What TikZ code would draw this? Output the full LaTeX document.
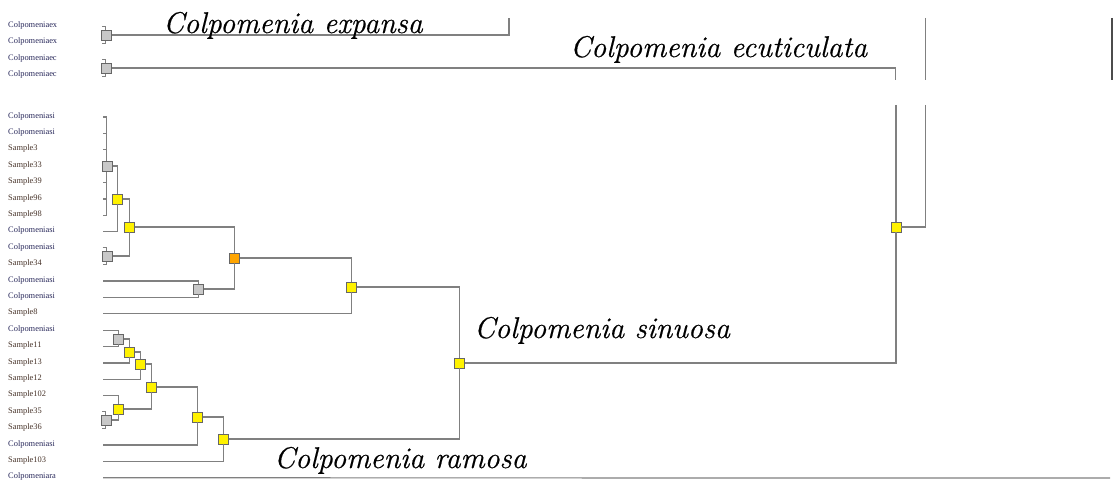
\documentclass[tikz,border=0pt]{standalone}
\usepackage{fontspec}
\newfontfamily\leaffont{Liberation Serif}
\newfontfamily\cladefont[FakeBold=0.5]{Latin Modern Roman}
\definecolor{branch}{HTML}{808080}
\definecolor{colpcol}{HTML}{28285A}
\definecolor{sampcol}{HTML}{463228}
\definecolor{nodegray}{HTML}{C8C8C8}
\definecolor{nodeorange}{HTML}{FFA500}
\tikzset{
  leaflabel/.style={anchor=base west, inner sep=0pt, font=\leaffont\fontsize{8.4}{10}\selectfont},
  clade/.style={anchor=base west, inner sep=0pt, font=\cladefont\fontsize{30}{36}\selectfont\itshape},
  ndbox/.style={draw=black!60, line width=0.8pt, minimum size=10pt, inner sep=0pt},
  grayknot/.style={ndbox, fill=nodegray},
  yellowknot/.style={ndbox, fill=yellow},
  orangeknot/.style={ndbox, fill=nodeorange},
  branchline/.style={draw=branch, line width=1.2pt},
}
\begin{document}
\begin{tikzpicture}[x=1pt,y=-1pt]
\useasboundingbox (0,0) rectangle (1113,484);
% leaf labels and leaf ends
\foreach \lab [count=\k from 0] in {Colpomeniaex,Colpomeniaex,Colpomeniaec,Colpomeniaec}
  \node[leaflabel, text=colpcol] (t\k) at (8,{27.5+16.3*\k}) {\lab};
\foreach \lab/\col [count=\k from 0] in {Colpomeniasi/colpcol,Colpomeniasi/colpcol,Sample3/sampcol,
    Sample33/sampcol,Sample39/sampcol,Sample96/sampcol,Sample98/sampcol,Colpomeniasi/colpcol,
    Colpomeniasi/colpcol,Sample34/sampcol,Colpomeniasi/colpcol,Colpomeniasi/colpcol,Sample8/sampcol,
    Colpomeniasi/colpcol,Sample11/sampcol,Sample13/sampcol,Sample12/sampcol,Sample102/sampcol,
    Sample35/sampcol,Sample36/sampcol,Colpomeniasi/colpcol,Sample103/sampcol,Colpomeniara/colpcol}{
  \node[leaflabel, text=\col] (s\k) at (8,{118+16.4*\k}) {\lab};
  \coordinate (r\k) at (103,{117+16.4*\k});
}
% collapsed clades
\draw[branchline] (r0) -- ++(3.7,0) |- (r6);
\foreach \k in {1,...,5} \draw[branchline] (r\k) -- ++(3.7,0);
\draw[branchline] (102,26.5) -| (105.7,43.5) -- (102,43.5);
\draw[branchline] (102,59.5) -| (105.7,76.5) -- (102,76.5);
\draw[branchline] (102.5,247.5) -| (106.3,264.5) -- (102.5,264.5);
\draw[branchline] (102,411.5) -| (105.7,428.5) -- (102,428.5);
% nodes
\node[grayknot] (gEx) at (106.7,35) {};
\node[grayknot] (gEc) at (106.7,68) {};
\node[grayknot] (gA) at (107.3,166) {};
\node[yellowknot] (yA) at (117.5,199) {};
\node[yellowknot] (yB) at (129.3,227) {};
\node[grayknot] (gB) at (107.3,256) {};
\node[grayknot] (gC) at (198.3,289) {};
\node[orangeknot] (oA) at (234.3,258) {};
\node[yellowknot] (yC) at (351.7,287) {};
\node[yellowknot] (yD) at (459.3,363) {};
\node[grayknot] (gD) at (118.3,339) {};
\node[yellowknot] (yE) at (129.3,352) {};
\node[yellowknot] (yF) at (140.7,364) {};
\node[yellowknot] (yG) at (151.7,387) {};
\node[yellowknot] (yH) at (118.3,409) {};
\node[grayknot] (gE) at (106.7,420) {};
\node[yellowknot] (yI) at (197.7,417) {};
\node[yellowknot] (yJ) at (223.3,439) {};
\node[yellowknot] (yK) at (896,227) {};
% cut branch ends
\coordinate (exTop) at (509,18);
\coordinate (ecEnd) at (895.5,80);
\coordinate (ecCont) at (896,105);
\coordinate (sbTop) at (925.5,18);
\coordinate (sbEnd) at (925.5,80);
\coordinate (sbCont) at (925.5,105);
\coordinate (rtTop) at (1112,18);
\coordinate (rtEnd) at (1112,80);
\coordinate (raEnd) at (1110,478);
% branches
\draw[branchline] (gEx) -| (exTop);
\draw[branchline] (gEc) -| (ecEnd);
\draw[branchline] (ecCont) -- (yK);
\draw[branchline] (sbTop) -- (sbEnd);
\draw[branchline] (sbCont) |- (yK);
\draw[draw=black!70, line width=1.2pt] (rtTop) -- (rtEnd);
\draw[branchline] (gA) -| (yA);
\draw[branchline] (r7) -| (yA);
\draw[branchline] (yA) -| (yB);
\draw[branchline] (gB) -| (yB);
\draw[branchline] (r10) -| (gC);
\draw[branchline] (r11) -| (gC);
\draw[branchline] (yB) -| (oA);
\draw[branchline] (gC) -| (oA);
\draw[branchline] (oA) -| (yC);
\draw[branchline] (r12) -| (yC);
\draw[branchline] (yC) -| (yD);
\draw[branchline] (r13) -| (gD);
\draw[branchline] (r14) -| (gD);
\draw[branchline] (gD) -| (yE);
\draw[branchline] (r15) -| (yE);
\draw[branchline] (yE) -| (yF);
\draw[branchline] (r16) -| (yF);
\draw[branchline] (yF) -| (yG);
\draw[branchline] (r17) -| (yH);
\draw[branchline] (gE) -| (yH);
\draw[branchline] (yH) -| (yG);
\draw[branchline] (yG) -| (yI);
\draw[branchline] (r20) -| (yI);
\draw[branchline] (yI) -| (yJ);
\draw[branchline] (r21) -| (yJ);
\draw[branchline] (yJ) -| (yD);
\draw[branchline] (yD) -| (yK);
\draw[branchline] (r22) -- (raEnd);
% clade names
\node[clade] (cExp) at (163,33) {Colpomenia expansa};
\node[clade] (cEcu) at (570,57) {Colpomenia ecuticulata};
\node[clade] (cSin) at (474,338) {Colpomenia sinuosa};
\node[clade] (cRam) at (274,468) {Colpomenia ramosa};
\end{tikzpicture}
\end{document}
